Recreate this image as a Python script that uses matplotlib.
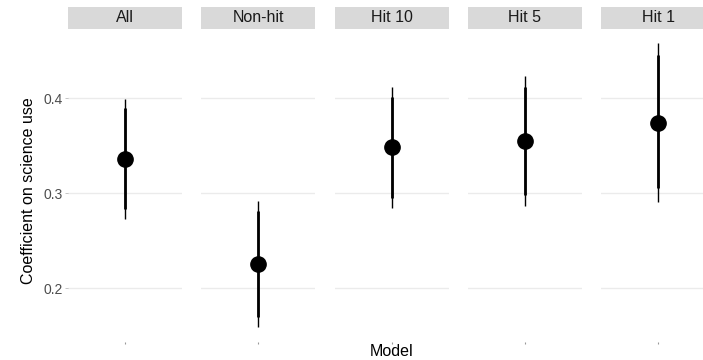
import matplotlib.pyplot as plt
from matplotlib.patches import Rectangle

plt.rcParams['font.family'] = ['Liberation Sans', 'DejaVu Sans']

# Coefficient estimates with inner (thick) and outer (thin) intervals
models = ["All", "Non-hit", "Hit 10", "Hit 5", "Hit 1"]
estimate = [0.336, 0.226, 0.348, 0.355, 0.374]
inner_low = [0.283, 0.170, 0.295, 0.298, 0.305]
inner_high = [0.389, 0.281, 0.401, 0.412, 0.445]
outer_low = [0.273, 0.159, 0.284, 0.286, 0.291]
outer_high = [0.399, 0.292, 0.412, 0.423, 0.458]
yticks = [0.2, 0.3, 0.4]

W, H = 703, 360
fig = plt.figure(figsize=(W / 100, H / 100), dpi=100)

# facet layout in pixels
left0, pw, step = 68, 114, 133.3
ptop, pbot = 28.6, 341.5
strip_h = 21.6

lo, hi = min(outer_low), max(outer_high)
pad = 0.05 * (hi - lo)

for i, name in enumerate(models):
    x0 = left0 + i * step
    ax = fig.add_axes([x0 / W, (H - pbot) / H, pw / W, (pbot - ptop) / H])
    ax.set_xlim(0.4, 1.6)
    ax.set_ylim(lo - pad, hi + pad)
    for s in ax.spines.values():
        s.set_visible(False)
    ax.set_yticks(yticks)
    ax.grid(axis='y', color='#EBEBEB', lw=1.0)
    ax.set_axisbelow(True)
    ax.set_xticks([1])
    ax.set_xticklabels([""])
    ax.tick_params(axis='x', length=1.2, width=0.8, color='#999999')
    if i == 0:
        ax.set_yticklabels([f"{t:.1f}" for t in yticks])
        ax.tick_params(axis='y', length=2.5, width=0.6, color='#BBBBBB',
                       labelsize=10, labelcolor='#4D4D4D', pad=1.2)
    else:
        ax.tick_params(axis='y', length=0, labelleft=False)

    ax.vlines(1, outer_low[i], outer_high[i], color='black', lw=1.0)
    ax.vlines(1, inner_low[i], inner_high[i], color='black', lw=2.0)
    ax.plot(1, estimate[i], 'o', color='black', ms=11)

    ax.add_patch(Rectangle((0, 1), 1, strip_h / (pbot - ptop),
                           transform=ax.transAxes, color='#D9D9D9',
                           clip_on=False, lw=0))
    ax.text(0.5, 1 + strip_h / 2 / (pbot - ptop), name, transform=ax.transAxes,
            ha='center', va='center', fontsize=11.5, color='#1A1A1A')

fig.text(391.5 / W, (H - 356) / H, "Model", ha='center', va='baseline',
         fontsize=11.5, color='black')
fig.text(33 / W, (H - 191) / H, "Coefficient on science use", rotation=90,
         rotation_mode='anchor', ha='center', va='baseline',
         fontsize=11.5, color='black')

fig.savefig("out.png", dpi=100)
